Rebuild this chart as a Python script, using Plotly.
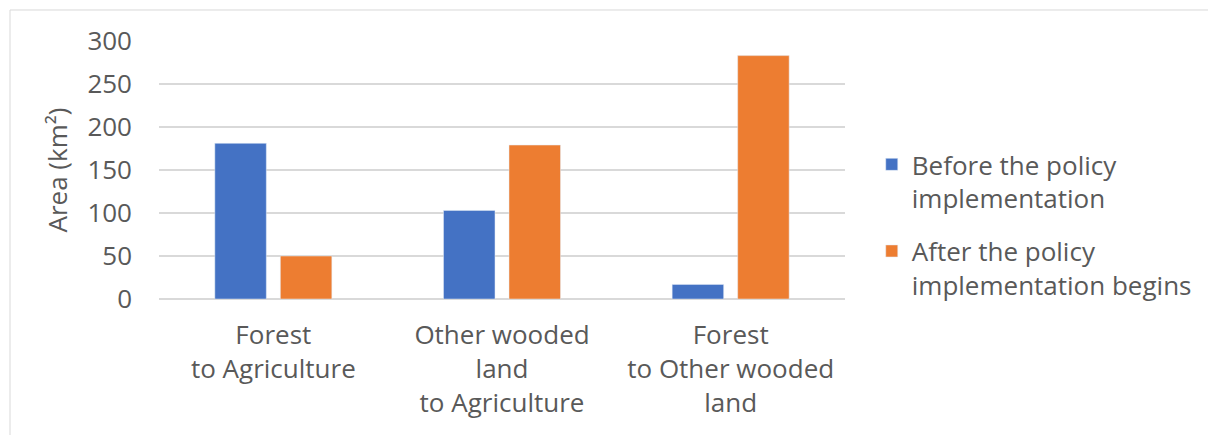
import plotly.graph_objects as go

# Land-use transitions (km²) before and after the policy
categories = [
    "Forest<br>to Agriculture",
    "Other wooded<br>land<br>to Agriculture",
    "Forest<br>to Other wooded<br>land",
]
before_policy = [181, 103, 17]
after_policy = [50, 179, 283]
series_names = ["Before the policy<br>implementation", "After the policy<br>implementation begins"]

BLUE = "#4472C4"
ORANGE = "#ED7D31"
TEXT = "#595959"
GRID = "#D9D9D9"
FONT = "Open Sans"
SIZE = 26

fig = go.Figure()
fig.add_trace(go.Bar(x=categories, y=before_policy, name=series_names[0],
                     marker=dict(color=BLUE), legendgroup="a"))
fig.add_trace(go.Bar(x=categories, y=after_policy, name=series_names[1],
                     marker=dict(color=ORANGE), legendgroup="b"))

fig.update_layout(
    width=1208, height=435,
    margin=dict(l=159, r=363, t=41, b=136, autoexpand=False),
    paper_bgcolor="white", plot_bgcolor="white",
    font=dict(family=FONT, size=SIZE, color=TEXT),
    barmode="group", bargap=0.427, bargroupgap=0.214,
    showlegend=True,
    legend=dict(x=1.039, xanchor="left", y=0.287, yanchor="middle",
                font=dict(family=FONT, size=SIZE, color=TEXT),
                valign="top", tracegroupgap=16, bgcolor="rgba(0,0,0,0)"),
    xaxis=dict(showgrid=False, showline=False, ticks="", ticklabelstandoff=18,
               tickfont=dict(family=FONT, size=SIZE, color=TEXT)),
    yaxis=dict(range=[0, 300], dtick=50, showgrid=True, gridcolor=GRID, gridwidth=1.5,
               zeroline=True, zerolinecolor=GRID, zerolinewidth=1.5, showline=False,
               ticks="", ticklabelstandoff=26,
               tickfont=dict(family=FONT, size=SIZE, color=TEXT),
               title=dict(text="Area (km²)", standoff=12,
                          font=dict(family=FONT, size=SIZE, color=TEXT))),
    shapes=[dict(type="rect", xref="paper", yref="paper",
                 x0=-0.2172, x1=1.6, y0=-0.8, y1=1.1202,
                 line=dict(color=GRID, width=1), fillcolor="rgba(0,0,0,0)",
                 layer="below")],
)

fig.write_html("out.html")
